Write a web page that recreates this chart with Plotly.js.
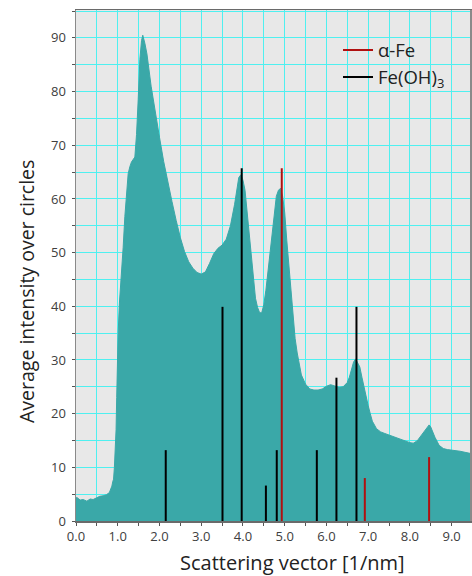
<!DOCTYPE html>
<html>
<head>
<meta charset="utf-8">
<script src="https://cdn.plot.ly/plotly-3.0.1.min.js"></script>
<style>
html,body{margin:0;padding:0;background:#fff;}
#chart{width:472px;height:576px;}
</style>
</head>
<body>
<div id="chart"></div>
<script>
// Measured intensity profile
const profileX = [0.00,0.02,0.10,0.17,0.26,0.34,0.41,0.50,0.57,0.65,0.73,0.80,0.83,0.86,0.88,0.90,0.92,0.94,0.96,0.975,0.99,1.01,1.04,1.09,1.13,1.17,1.21,1.25,1.29,1.33,1.41,1.45,1.49,1.53,1.57,1.60,1.65,1.70,1.80,1.90,2.00,2.10,2.20,2.30,2.40,2.50,2.60,2.70,2.80,2.90,3.00,3.10,3.20,3.30,3.40,3.50,3.60,3.70,3.80,3.85,3.90,3.95,4.00,4.05,4.10,4.15,4.20,4.25,4.30,4.35,4.40,4.45,4.50,4.55,4.60,4.65,4.70,4.75,4.80,4.85,4.90,4.95,5.00,5.05,5.10,5.15,5.20,5.25,5.30,5.35,5.40,5.50,5.60,5.70,5.80,5.90,6.00,6.10,6.20,6.30,6.40,6.50,6.55,6.60,6.65,6.70,6.75,6.80,6.85,6.90,6.95,7.00,7.05,7.10,7.20,7.30,7.40,7.50,7.60,7.70,7.80,7.90,8.00,8.08,8.15,8.20,8.30,8.40,8.46,8.50,8.55,8.60,8.70,8.80,8.90,9.00,9.20,9.44];
const profileY = [4.3,4.4,3.9,4.0,3.7,4.1,4.0,4.4,4.6,4.7,4.9,5.3,5.8,6.5,7.3,7.8,10.0,12.5,17.0,23.0,29.0,35.0,40.6,45.5,51.0,56.7,60.5,64.7,66.0,66.9,67.8,72.0,78.5,86.0,89.5,90.5,89.0,87.0,81.0,76.0,71.5,67.0,63.0,59.5,56.0,52.8,50.2,48.3,47.1,46.3,46.0,46.4,48.0,49.8,50.8,51.4,52.5,55.0,59.0,62.0,64.0,64.5,63.5,61.6,57.5,53.0,48.3,44.5,41.5,39.8,38.8,38.8,40.3,43.0,46.5,49.8,54.0,58.0,60.5,61.6,62.0,60.5,57.5,52.3,47.5,42.5,38.0,34.0,31.3,28.8,27.2,25.5,24.6,24.4,24.4,24.6,25.1,25.4,25.1,24.9,25.0,25.8,26.8,28.3,29.6,30.2,29.5,28.7,26.8,24.8,23.0,21.5,20.0,18.6,17.2,16.6,16.3,16.0,15.7,15.4,15.1,14.9,14.6,14.5,14.8,15.2,16.2,17.3,17.9,17.5,16.5,15.6,14.1,13.5,13.3,13.2,13.0,12.6];

// Reference peak positions and heights
const feX = [4.93, 6.92, 8.46];
const feY = [65.7, 8.0, 11.9];
const fohX = [2.15, 3.51, 3.97, 4.55, 4.81, 5.77, 6.24, 6.72];
const fohY = [13.2, 39.9, 65.7, 6.6, 13.2, 13.2, 26.7, 39.9];

// Axis ticks
const xTickVals = [0,1,2,3,4,5,6,7,8,9];
const xTickText = ['0.0','1.0','2.0','3.0','4.0','5.0','6.0','7.0','8.0','9.0'];
const yTickVals = [0,10,20,30,40,50,60,70,80,90];

const xTitle = 'Scattering vector [1/nm]';
const yTitle = 'Average intensity over circles';

function sticks(xs, ys){
  const sx = [], sy = [];
  for (let i = 0; i < xs.length; i++){
    sx.push(xs[i], xs[i], null);
    sy.push(0, ys[i], null);
  }
  return {x: sx, y: sy};
}

const fe = sticks(feX, feY);
const foh = sticks(fohX, fohY);

const gridCol = '#4ff0f0';
const fontFam = 'Open Sans, sans-serif';
const axisFont = {family: fontFam, size: 13, color: '#404040'};

const traces = [
  {
    x: profileX, y: profileY, type: 'scatter', mode: 'lines',
    fill: 'tozeroy', fillcolor: '#3aa8a8',
    line: {color: '#3aa8a8', width: 1, shape: 'linear'},
    showlegend: false, hoverinfo: 'skip'
  },
  {
    x: fe.x, y: fe.y, type: 'scatter', mode: 'lines', name: 'α-Fe',
    line: {color: '#b01010', width: 2}, connectgaps: false
  },
  {
    x: foh.x, y: foh.y, type: 'scatter', mode: 'lines', name: 'Fe(OH)<sub>3</sub>',
    line: {color: '#000000', width: 2}, connectgaps: false
  }
];

const layout = {
  width: 472, height: 576,
  margin: {l: 76, r: 2, t: 10, b: 55},
  paper_bgcolor: '#ffffff',
  plot_bgcolor: '#e8e8e8',
  showlegend: true,
  legend: {
    x: 0.665, y: 0.958, xanchor: 'left', yanchor: 'top',
    bgcolor: 'rgba(0,0,0,0)', borderwidth: 0,
    font: {family: fontFam, size: 18.5, color: '#222222'},
    itemwidth: 30, tracegroupgap: 0
  },
  xaxis: {
    range: [0, 9.44], tickvals: xTickVals, ticktext: xTickText,
    showgrid: true, gridcolor: gridCol, gridwidth: 1,
    minor: {dtick: 0.5, tick0: 0, showgrid: true, gridcolor: gridCol, gridwidth: 1, ticks: 'outside', ticklen: 3, tickcolor: '#555'},
    ticks: 'outside', ticklen: 3, tickcolor: '#555',
    showline: true, linecolor: '#6a6a6a', linewidth: 1.5, mirror: true,
    zeroline: false, tickfont: axisFont,
    automargin: false
  },
  yaxis: {
    range: [0, 95.2], tickvals: yTickVals,
    showgrid: true, gridcolor: gridCol, gridwidth: 1,
    minor: {dtick: 5, tick0: 0, showgrid: true, gridcolor: gridCol, gridwidth: 1, ticks: 'outside', ticklen: 3, tickcolor: '#555'},
    ticks: 'outside', ticklen: 3, tickcolor: '#555',
    showline: true, linecolor: '#8a8a8a', linewidth: 1.5, mirror: true,
    zeroline: false, tickfont: axisFont, ticklabelstandoff: 3,
    automargin: false
  },
  annotations: [
    {
      text: xTitle, xref: 'paper', yref: 'paper',
      x: (292 - 76) / 394, y: -(563 - 521) / 511,
      xanchor: 'center', yanchor: 'middle', showarrow: false,
      font: {family: fontFam, size: 20, color: '#222222'}
    },
    {
      text: yTitle, xref: 'paper', yref: 'paper',
      x: -(76 - 26) / 394, y: (521 - 292) / 511,
      xanchor: 'center', yanchor: 'middle', showarrow: false, textangle: -90,
      font: {family: fontFam, size: 19.5, color: '#222222'}
    }
  ]
};

Plotly.newPlot('chart', traces, layout, {displayModeBar: false, staticPlot: true});
</script>
</body>
</html>
